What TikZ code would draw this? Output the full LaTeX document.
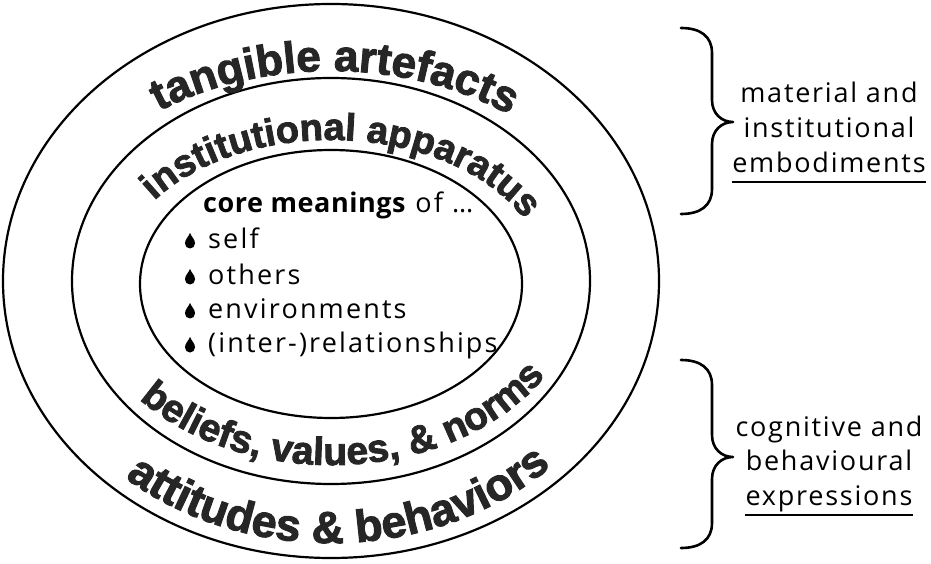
\documentclass[tikz,border=0pt]{standalone}
\usepackage{fontspec}
\setmainfont{Open Sans}[Ligatures=NoCommon]
\newfontfamily\heavyfont{Liberation Sans Bold}[FakeBold=2.2]
\usetikzlibrary{decorations.text}

\definecolor{textgrey}{HTML}{262626}

\tikzset{
  ring/.style={draw=black, line width=2.2pt},
  bracepath/.style={draw=black, line width=2.6pt, line cap=round, line join=round},
  lbl/.style={inner sep=0pt, font=\fontsize{27}{30}\selectfont\addfontfeatures{LetterSpace=6.5}},
  corelbl/.style={inner sep=0pt, anchor=base west, font=\fontsize{27}{30}\selectfont\addfontfeatures{LetterSpace=8}},
  uline/.style={draw=black, line width=1.8pt},
  dropbullet/.pic={
    \fill[black] (0,15) .. controls (1.5,11) and (5,9) .. (5,4.5)
      arc[start angle=0, end angle=-180, radius=5]
      .. controls (-5,9) and (-1.5,11) .. (0,15) -- cycle;
  },
}

\begin{document}
\begin{tikzpicture}[x=1pt, y=1pt]
\useasboundingbox (0,0) rectangle (931,563);

% concentric rings
\coordinate (ctr) at (331,282);
\coordinate (ictr) at (331,279);
\draw[ring] (ctr) ellipse[x radius=328, y radius=277];
\draw[ring] (ctr) ellipse[x radius=259, y radius=203];
\draw[ring] (ictr) ellipse[x radius=191, y radius=134];

% curved ring labels
\path[decorate, decoration={text along path, text align=center, text color=textgrey,
  text={|\heavyfont\fontsize{44}{44}\selectfont|tangible artefacts}}]
  (ctr) ++(159:292 and 210) arc[start angle=159, end angle=19, x radius=292, y radius=210];

\path[decorate, decoration={text along path, text align=center, text color=textgrey,
  text={|\heavyfont\fontsize{38}{38}\selectfont|institutional apparatus}}]
  (ctr) ++(165:215 and 141) arc[start angle=165, end angle=5, x radius=215, y radius=141];

\path[decorate, decoration={text along path, text align=center, text color=textgrey,
  text={|\heavyfont\fontsize{39}{39}\selectfont|beliefs, values, {\&} norms}}]
  (ctr) ++(195:250 and 184) arc[start angle=195, end angle=355, x radius=250, y radius=184];

\path[decorate, decoration={text along path, text align=center, text color=textgrey,
  text={|\heavyfont\fontsize{45}{45}\selectfont|attitudes {\&} behaviors}}]
  (ctr) ++(197:312 and 262) arc[start angle=197, end angle=347, x radius=312, y radius=262];

% core list
\node[corelbl] (core) at (203,350)
  {{\addfontfeatures{LetterSpace=2}\textbf{core meanings}} of …};
\node[corelbl] (self) at (208,315) {self};
\node[corelbl] (oth) at (208,279) {others};
\node[corelbl] (env) at (208,245) {environments};
\node[corelbl] (rel) at (208,211) {(inter-)relationships};
\pic (d1) at (190,315) {dropbullet};
\pic (d2) at (190,279) {dropbullet};
\pic (d3) at (190,245) {dropbullet};
\pic (d4) at (190,211) {dropbullet};

% upper brace
\coordinate (ut) at (681,535);
\coordinate (ub) at (681,349);
\coordinate (um) at (733,441);
\draw[bracepath] (ut) .. controls (700,535) and (712,527) .. (712,510)
  -- (712,463) .. controls (712,449) and (722,441) .. (um)
  .. controls (722,441) and (712,433) .. (712,419)
  -- (712,374) .. controls (712,357) and (700,349) .. (ub);

% lower brace
\coordinate (lt) at (681,203);
\coordinate (lb) at (681,15);
\coordinate (lm) at (733,106);
\draw[bracepath] (lt) .. controls (700,203) and (712,195) .. (712,178)
  -- (712,128) .. controls (712,114) and (722,106) .. (lm)
  .. controls (722,106) and (712,98) .. (712,84)
  -- (712,40) .. controls (712,23) and (700,15) .. (lb);

% side labels
\node[lbl, anchor=base] (mat) at (829,460) {material and};
\node[lbl, anchor=base] (ins) at (829,425) {institutional};
\node[lbl, anchor=base] (emb) at (829,390) {embodiments};
\draw[uline] ([yshift=-9pt]emb.base west) -- ([yshift=-9pt]emb.base east);

\node[lbl, anchor=base] (cog) at (829,127) {cognitive and};
\node[lbl, anchor=base] (beh) at (829,93) {behavioural};
\node[lbl, anchor=base] (exp) at (829,58) {expressions};
\draw[uline] ([yshift=-3pt]exp.south west) -- ([yshift=-3pt]exp.south east);
\end{tikzpicture}
\end{document}
